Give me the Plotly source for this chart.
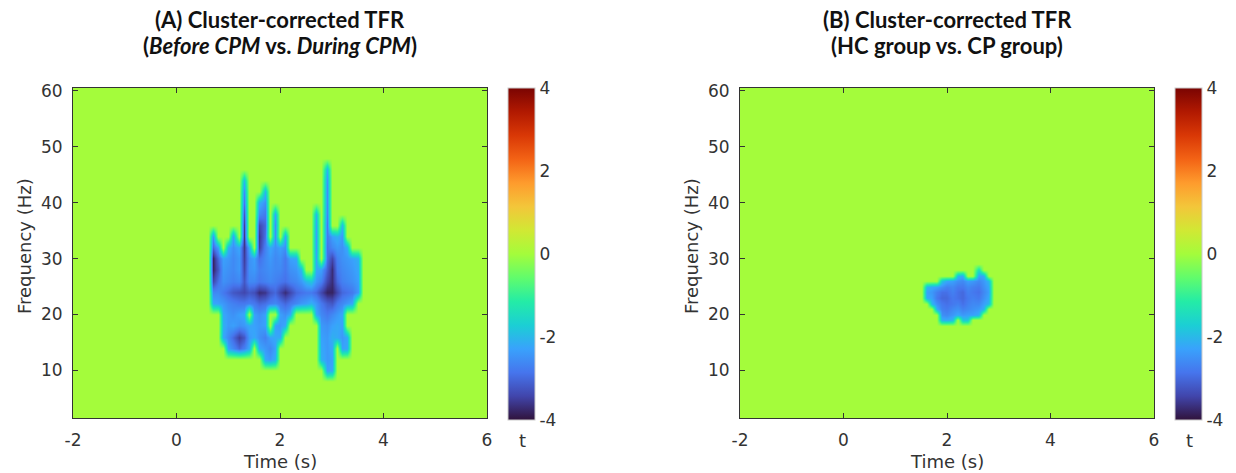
import plotly.graph_objects as go

W, H = 1236, 473

# ---------------- data ----------------
# Panel A: cluster-corrected t-values (rows = frequency, top row = 48 Hz)
times_a = [0.6, 0.7, 0.8, 0.9, 1.0, 1.1, 1.2, 1.3, 1.4, 1.5, 1.6, 1.7, 1.8, 1.9, 2.0, 2.1,
           2.2, 2.3, 2.4, 2.5, 2.6, 2.7, 2.8, 2.9, 3.0, 3.1, 3.2, 3.3, 3.4, 3.5, 3.6]
freqs_a = [48, 46, 44, 42, 40, 38, 36, 34, 32, 30, 28, 26, 24, 22, 20, 18, 16, 14, 12, 10, 8]
tfr_a = [
    [0,0,0,0,0,0,0,0,0,0,0,0,0,0,0,0,0,0,0,0,0,0,0,0,0,0,0,0,0,0,0],
    [0,0,0,0,0,0,0,0,0,0,0,0,0,0,0,0,0,0,0,0,0,0,0,-2.0,0,0,0,0,0,0,0],
    [0,0,0,0,0,0,0,-1.9,0,0,0,0,0,0,0,0,0,0,0,0,0,0,0,-2.4,0,0,0,0,0,0,0],
    [0,0,0,0,0,0,0,-2.5,0,0,0,-2.0,0,0,0,0,0,0,0,0,0,0,0,-2.5,0,0,0,0,0,0,0],
    [0,0,0,0,0,0,0,-2.8,0,0,-2.1,-2.5,0,0,0,0,0,0,0,0,0,0,0,-2.5,0,0,0,0,0,0,0],
    [0,0,0,0,0,0,0,-3.2,0,0,-2.6,-2.8,0,-2.2,0,0,0,0,0,0,0,-2.0,0,-2.6,0,0,0,0,0,0,0],
    [0,0,0,0,0,0,0,-3.5,0,0,-3.4,-3.0,0,-2.5,0,0,0,0,0,0,0,-2.2,0,-2.8,0,0,-2.0,0,0,0,0],
    [0,-2.4,0,0,0,-2.3,0,-3.6,0,0,-3.6,-2.9,0,-2.5,0,-2.2,0,0,0,0,0,-2.3,0,-2.8,-2.3,-2.1,-2.4,0,0,0,0],
    [0,-3.0,-2.3,0,-2.1,-2.5,-2.2,-3.6,-2.2,0,-3.5,-2.7,-2.2,-2.5,-2.3,-2.5,0,0,0,0,0,-2.3,0,-2.9,-2.6,-2.4,-2.5,-2.1,0,0,0],
    [0,-3.8,-3.0,-2.3,-2.4,-2.6,-2.4,-3.5,-2.5,-2.3,-2.9,-2.6,-2.4,-2.6,-2.5,-2.8,-2.3,-2.2,0,0,0,-2.2,0,-2.9,-3.4,-2.7,-2.5,-2.4,-2.3,-2.1,0],
    [0,-3.8,-3.2,-2.4,-2.5,-2.6,-2.4,-3.4,-2.5,-2.4,-2.7,-2.6,-2.5,-2.6,-2.6,-2.8,-2.5,-2.4,-2.0,0,0,-2.2,-2.3,-3.1,-3.7,-2.8,-2.6,-2.5,-2.4,-2.2,0],
    [0,-3.4,-2.9,-2.5,-2.6,-2.7,-2.6,-3.2,-2.6,-2.6,-2.8,-2.7,-2.6,-2.7,-2.8,-2.9,-2.7,-2.6,-2.4,-2.0,-1.8,-2.4,-2.7,-3.4,-3.7,-3.0,-2.7,-2.6,-2.5,-2.3,0],
    [0,-2.6,-2.6,-2.8,-3.0,-3.2,-3.3,-3.4,-3.2,-3.3,-3.7,-3.6,-3.2,-3.0,-3.4,-3.7,-3.4,-3.0,-2.9,-2.8,-2.8,-3.0,-3.4,-3.8,-3.8,-3.4,-3.0,-2.9,-2.8,-2.4,0],
    [0,-2.2,-2.3,-2.4,-2.6,-2.7,-2.8,-2.8,-2.7,-2.8,-3.0,-2.9,-2.7,-2.6,-2.8,-3.0,-2.8,-2.6,-2.4,-2.3,-2.1,-2.4,-2.8,-3.1,-3.2,-2.8,-2.6,-2.4,-2.2,0,0],
    [0,0,0,-2.2,-2.4,-2.5,-2.3,-2.2,0,-2.3,-2.5,-2.3,0,0,-2.3,-2.5,-2.2,0,0,0,0,-2.2,-2.6,-2.8,-2.6,-2.4,-2.2,0,0,0,0],
    [0,0,0,-2.1,-2.4,-2.3,-2.5,-2.4,-2.2,-2.3,-2.4,-2.3,0,-2.3,-2.4,-2.2,0,0,0,0,0,0,-2.4,-2.5,-2.3,-2.2,-2.3,0,0,0,0],
    [0,0,0,-2.2,-2.6,-3.0,-3.5,-3.2,-2.4,-2.2,-2.5,-2.7,-2.3,-2.2,-2.2,0,0,0,0,0,0,0,-2.3,-2.4,-2.1,-2.2,-2.4,-2.2,0,0,0],
    [0,0,0,0,-2.3,-2.6,-3.0,-2.7,-2.2,0,-2.2,-2.4,-2.6,-2.3,0,0,0,0,0,0,0,0,-2.2,-2.4,-2.2,0,-2.3,-2.2,0,0,0],
    [0,0,0,0,0,0,0,0,0,0,0,-2.2,-2.4,-2.1,0,0,0,0,0,0,0,0,-2.1,-2.4,-2.3,0,0,0,0,0,0],
    [0,0,0,0,0,0,0,0,0,0,0,0,0,0,0,0,0,0,0,0,0,0,0,-2.3,-2.2,0,0,0,0,0,0],
    [0,0,0,0,0,0,0,0,0,0,0,0,0,0,0,0,0,0,0,0,0,0,0,0,0,0,0,0,0,0,0],
]

# Panel B: cluster-corrected t-values (rows = frequency, top row = 30 Hz)
times_b = [1.5, 1.6, 1.7, 1.8, 1.9, 2.0, 2.1, 2.2, 2.3, 2.4, 2.5, 2.6, 2.7, 2.8, 2.9]
freqs_b = [30, 29, 28, 27, 26, 25, 24, 23, 22, 21, 20, 19, 18, 17, 16]
tfr_b = [
    [0,0,0,0,0,0,0,0,0,0,0,0,0,0,0],
    [0,0,0,0,0,0,0,0,0,0,0,0,0,0,0],
    [0,0,0,0,0,0,0,0,0,0,0,-1.5,0,0,0],
    [0,0,0,0,0,0,0,-2.0,-2.2,0,0,-2.3,-2.2,0,0],
    [0,0,0,0,-1.8,-2.2,-2.3,-2.5,-2.6,-2.3,-2.4,-2.6,-2.4,-2.0,0],
    [0,-2.0,-2.2,-2.3,-2.5,-2.7,-2.6,-2.8,-2.8,-2.6,-2.7,-2.8,-2.5,-2.2,0],
    [0,-2.3,-2.4,-2.7,-2.9,-2.9,-2.7,-2.9,-3.0,-2.7,-2.8,-2.9,-2.6,-2.3,0],
    [0,-2.2,-2.3,-2.8,-3.0,-3.0,-2.8,-2.9,-3.0,-2.8,-2.7,-2.8,-2.5,-2.2,0],
    [0,0,-2.0,-2.5,-2.8,-2.9,-2.8,-2.7,-2.9,-2.7,-2.6,-2.6,-2.3,-2.0,0],
    [0,0,0,-2.2,-2.7,-2.8,-2.6,-2.5,-2.7,-2.6,-2.5,-2.4,-2.1,0,0],
    [0,0,0,0,-2.5,-2.6,-2.4,-2.2,-2.4,-2.3,-2.3,-2.1,0,0,0],
    [0,0,0,0,-2.1,-2.2,-2.0,0,-1.8,-1.8,0,0,0,0,0],
    [0,0,0,0,0,0,0,0,0,0,0,0,0,0,0],
    [0,0,0,0,0,0,0,0,0,0,0,0,0,0,0],
    [0,0,0,0,0,0,0,0,0,0,0,0,0,0,0],
]

x_ticks = [-2, 0, 2, 4, 6]
x_tick_text = ["-2", "0", "2", "4", "6"]
y_ticks = [10, 20, 30, 40, 50, 60]
cbar_ticks = [-4, -2, 0, 2, 4]
cbar_tick_text = ["-4", "-2", "0", "2", "4"]
t_range = [-2, 6]
f_range = [1.5, 60.5]
z_lim = [-4, 4]

titles_a = ["<b>(A) Cluster-corrected TFR</b>",
            "<b>(<i>Before CPM</i> vs. <i>During CPM</i>)</b>"]
titles_b = ["<b>(B) Cluster-corrected TFR</b>",
            "<b>(HC group vs. CP group)</b>"]

# ---------------- layout helpers ----------------
def fx(p):
    return p / W

def fy(p):
    return 1 - p / H

PLOT_TOP, PLOT_BOT = 88, 418
panels = [
    dict(left=73, right=487, cb=508),
    dict(left=740, right=1154, cb=1175),
]
TXT = "#333333"
TICKFONT = dict(family="DejaVu Sans", size=17, color=TXT)

fig = go.Figure()

data_sets = [(times_a, freqs_a, tfr_a), (times_b, freqs_b, tfr_b)]
for k, (tt, ff, zz) in enumerate(data_sets):
    p = panels[k]
    ax = "" if k == 0 else "2"
    fig.add_trace(go.Heatmap(
        x=tt, y=ff[::-1], z=zz[::-1],
        colorscale="Turbo", zmin=z_lim[0], zmax=z_lim[1], zsmooth="best",
        xaxis="x" + ax, yaxis="y" + ax, hoverinfo="skip",
        colorbar=dict(
            x=fx(p["cb"]), xanchor="left", y=fy((PLOT_TOP + PLOT_BOT + 2) / 2), yanchor="middle",
            len=(PLOT_BOT + 2 - PLOT_TOP) / H, lenmode="fraction",
            thickness=27, thicknessmode="pixels", xpad=0, ypad=0,
            outlinewidth=1, outlinecolor="#cccccc",
            tickvals=cbar_ticks, ticktext=cbar_tick_text, ticks="",
            tickfont=TICKFONT,
        ),
    ))

layout = dict(
    width=W, height=H, template="none",
    margin=dict(l=0, r=0, t=0, b=0, autoexpand=False),
    paper_bgcolor="white", plot_bgcolor="#a4fc3b",
    showlegend=False,
)
annotations = []
for k, p in enumerate(panels):
    ax = "" if k == 0 else "2"
    layout["xaxis" + ax] = dict(
        domain=[fx(p["left"]), fx(p["right"])], range=t_range, anchor="y" + ax,
        tickvals=x_ticks, ticktext=x_tick_text, ticks="inside", ticklen=5, tickcolor="#333",
        showline=True, linecolor="#333", linewidth=1, mirror="ticks",
        showgrid=False, zeroline=False, tickfont=TICKFONT, ticklabelstandoff=7,
    )
    layout["yaxis" + ax] = dict(
        domain=[fy(PLOT_BOT), fy(PLOT_TOP)], range=f_range, anchor="x" + ax,
        tickvals=y_ticks, ticks="inside", ticklen=5, tickcolor="#333",
        showline=True, linecolor="#333", linewidth=1, mirror="ticks",
        showgrid=False, zeroline=False, tickfont=TICKFONT, ticklabelstandoff=6,
    )
    cx = (p["left"] + p["right"]) / 2
    titles = titles_a if k == 0 else titles_b
    for line, ypx in zip(titles, [19, 46]):
        annotations.append(dict(
            text=line, x=fx(cx), y=fy(ypx), xref="paper", yref="paper",
            xanchor="center", yanchor="middle", showarrow=False,
            font=dict(family="Lato", size=22, color="#111111"),
        ))
    annotations.append(dict(
        text="Time (s)", x=fx(cx), y=fy(461), xref="paper", yref="paper",
        xanchor="center", yanchor="middle", showarrow=False,
        font=dict(family="DejaVu Sans", size=18, color=TXT),
    ))
    annotations.append(dict(
        text="Frequency (Hz)", x=fx(p["left"] - 49), y=fy(246), xref="paper", yref="paper",
        xanchor="center", yanchor="middle", showarrow=False, textangle=-90,
        font=dict(family="DejaVu Sans", size=18, color=TXT),
    ))
    annotations.append(dict(
        text="t", x=fx(p["cb"] + 14), y=fy(440), xref="paper", yref="paper",
        xanchor="center", yanchor="middle", showarrow=False,
        font=dict(family="DejaVu Sans", size=18, color=TXT),
    ))
layout["annotations"] = annotations
fig.update_layout(**layout)

fig.write_html("out.html", config={"displayModeBar": False},
               post_script="document.body.style.margin='0';")
